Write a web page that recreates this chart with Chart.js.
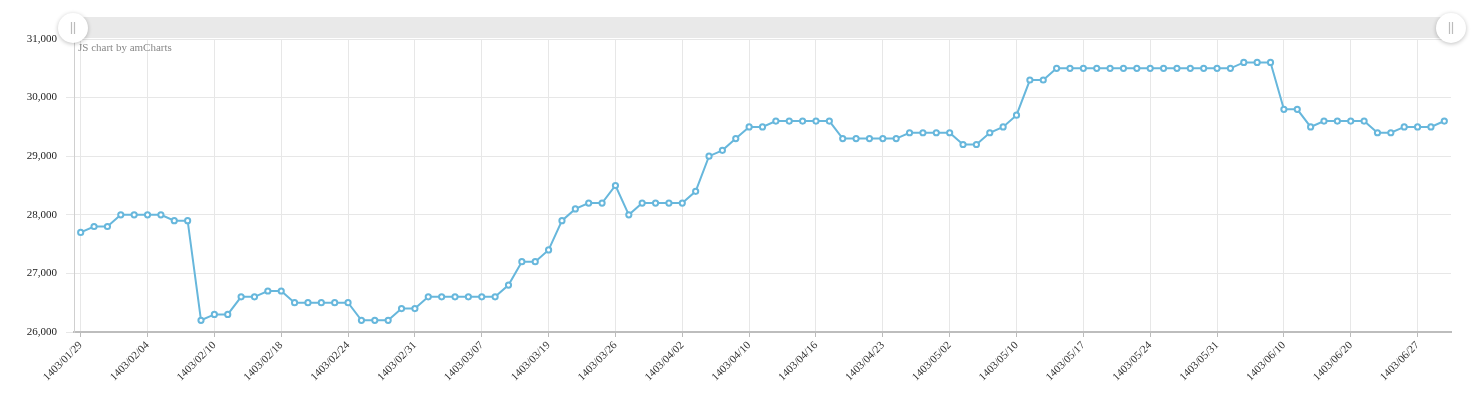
<!DOCTYPE html>
<html>
<head>
<meta charset="utf-8">
<script src="https://cdn.jsdelivr.net/npm/chart.js@4.4.1/dist/chart.umd.min.js"></script>
<style>
  html, body { margin: 0; padding: 0; background: #fff; }
  #wrap { width: 1481px; height: 400px; }
</style>
</head>
<body>
<div id="wrap"><canvas id="chart" width="1481" height="400"></canvas></div>
<script>
const ctx = document.getElementById("chart").getContext("2d");

// Datos: precio diario
const prices = [
  27700, 27800, 27800, 28000, 28000, 28000, 28000, 27900, 27900, 26200,
  26300, 26300, 26600, 26600, 26700, 26700, 26500, 26500, 26500, 26500,
  26500, 26200, 26200, 26200, 26400, 26400, 26600, 26600, 26600, 26600,
  26600, 26600, 26800, 27200, 27200, 27400, 27900, 28100, 28200, 28200,
  28500, 28000, 28200, 28200, 28200, 28200, 28400, 29000, 29100, 29300,
  29500, 29500, 29600, 29600, 29600, 29600, 29600, 29300, 29300, 29300,
  29300, 29300, 29400, 29400, 29400, 29400, 29200, 29200, 29400, 29500,
  29700, 30300, 30300, 30500, 30500, 30500, 30500, 30500, 30500, 30500,
  30500, 30500, 30500, 30500, 30500, 30500, 30500, 30600, 30600, 30600,
  29800, 29800, 29500, 29600, 29600, 29600, 29600, 29400, 29400, 29500,
  29500, 29500, 29600
];

// Etiquetas del eje X (una cada 5 puntos)
const tickLabels = [
  "1403/01/29", "1403/02/04", "1403/02/10", "1403/02/18", "1403/02/24",
  "1403/02/31", "1403/03/07", "1403/03/19", "1403/03/26", "1403/04/02",
  "1403/04/10", "1403/04/16", "1403/04/23", "1403/05/02", "1403/05/10",
  "1403/05/17", "1403/05/24", "1403/05/31", "1403/06/10", "1403/06/20",
  "1403/06/27"
];
const tickEvery = 5;

const yTicks = [26000, 27000, 28000, 29000, 30000, 31000];

const labels = prices.map((v, i) => (i % tickEvery === 0 ? tickLabels[i / tickEvery] : ""));

const lineColor = "#67b7dc";
const gridColor = "#e7e7e7";

// barra de scroll + marca de agua (como amCharts)
const decorPlugin = {
  id: "decor",
  beforeDraw(chart) {
    const c = chart.ctx;
    const area = chart.chartArea;
    c.save();
    c.fillStyle = "#e9e9e9";
    c.fillRect(area.left, 17, area.right - area.left, 21);
    c.restore();
  },
  afterDatasetsDraw(chart) {
    const c = chart.ctx;
    const area = chart.chartArea;
    c.save();
    c.fillStyle = "#888";
    c.font = "11px 'Liberation Serif'";
    c.textBaseline = "top";
    c.fillText("JS chart by amCharts", area.left + 4, 43);
    c.restore();
  },
  afterDraw(chart) {
    const c = chart.ctx;
    const area = chart.chartArea;
    [area.left - 1, area.right].forEach(x => {
      c.save();
      c.shadowColor = "rgba(0,0,0,0.25)";
      c.shadowBlur = 4;
      c.shadowOffsetY = 1;
      c.fillStyle = "#fff";
      c.beginPath();
      c.arc(x, 28, 15, 0, Math.PI * 2);
      c.fill();
      c.restore();
      c.save();
      c.strokeStyle = "#bcbcbc";
      c.lineWidth = 1.2;
      c.beginPath();
      c.moveTo(x - 1.5, 22); c.lineTo(x - 1.5, 34);
      c.moveTo(x + 1.5, 22); c.lineTo(x + 1.5, 34);
      c.stroke();
      c.restore();
    });
  }
};

const config = {
  type: "line",
  data: {
    labels: labels,
    datasets: [{
      data: prices,
      borderColor: lineColor,
      borderWidth: 2,
      backgroundColor: "#fff",
      pointBackgroundColor: "#fff",
      pointBorderColor: lineColor,
      pointBorderWidth: 2,
      pointRadius: 2.6,
      tension: 0,
      fill: false
    }]
  },
  options: {
    responsive: false,
    animation: false,
    devicePixelRatio: 1,
    layout: { padding: { top: 39, right: 30, left: 0, bottom: 0 } },
    plugins: {
      legend: { display: false },
      tooltip: { enabled: false }
    },
    scales: {
      x: {
        type: "category",
        offset: true,
        afterFit(scale) { scale.height = 68; },
        grid: {
          offset: false,
          color: c => (c.index % tickEvery === 0 ? gridColor : "transparent"),
          tickColor: c => (c.index % tickEvery === 0 ? "#bbb" : "transparent"),
          tickLength: 5,
          drawOnChartArea: true
        },
        border: { color: "#bdbdbd", width: 2 },
        ticks: {
          autoSkip: false,
          maxRotation: 45,
          minRotation: 45,
          padding: 2,
          color: "#333",
          font: { family: "'Liberation Serif'", size: 11 }
        }
      },
      y: {
        min: yTicks[0],
        max: yTicks[yTicks.length - 1],
        afterFit(scale) { scale.width = 74; },
        afterBuildTicks(scale) { scale.ticks = yTicks.map(v => ({ value: v })); },
        grid: { color: gridColor, tickLength: 8, tickColor: gridColor },
        border: { color: "#cfcfcf", width: 1 },
        ticks: {
          padding: 9,
          color: "#222",
          font: { family: "'Liberation Serif'", size: 11 },
          callback: v => v.toLocaleString("en-US")
        }
      }
    }
  },
  plugins: [decorPlugin]
};

const chart = new Chart(ctx, config);
</script>
</body>
</html>
